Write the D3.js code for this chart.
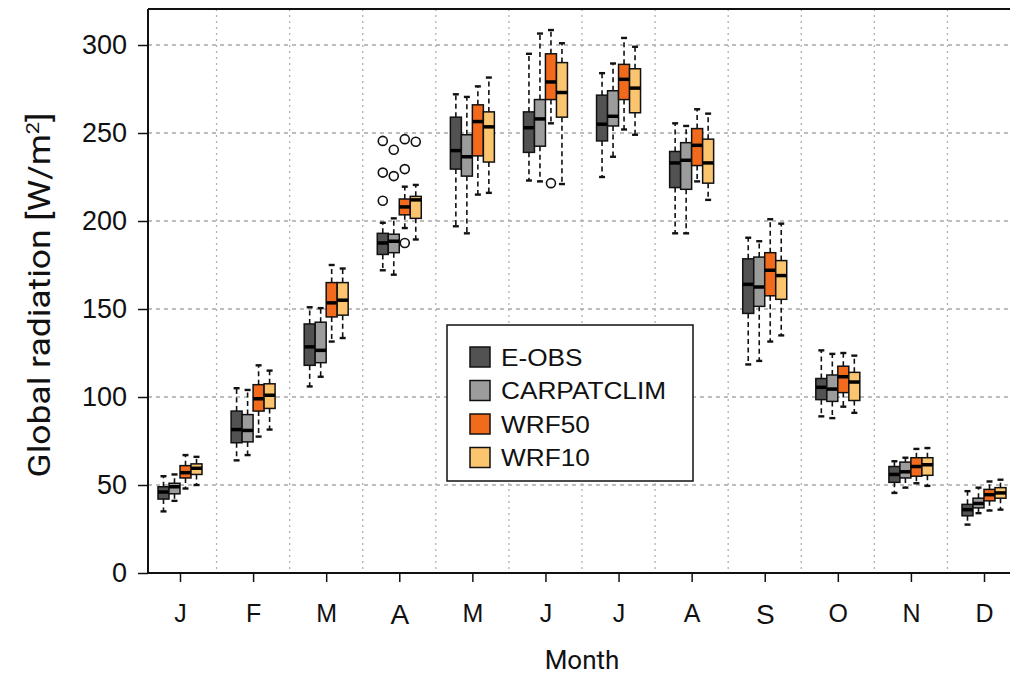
<!DOCTYPE html>
<html><head><meta charset="utf-8">
<script src="https://cdn.jsdelivr.net/npm/d3@7"></script>
<style>
html,body{margin:0;padding:0;background:#fff;}
svg{display:block;}
</style></head>
<body>
<svg id="chart" width="1010" height="677"></svg>
<script>
const months = ["J","F","M","A","M","J","J","A","S","O","N","D"];
const seriesNames = ["E-OBS","CARPATCLIM","WRF50","WRF10"];
const seriesColors = ["#525252","#9c9c9c","#f26b1d","#fbc56f"];
const yTicks = [0,50,100,150,200,250,300];

// [whiskerLow, q1, median, q3, whiskerHigh] per month
const eobs = [
  [35,42,46,49,55],[64,74,81.5,92,105],[106,118,128.5,141.5,151],[172,181,187.5,193,199],
  [197,229.5,240,259,272],[223,239,253,262,295],[225,245.5,255,271.5,284],[193,219,233,239.5,255.5],
  [118.5,147.5,164,178.5,190.5],[89,98.5,105.5,110.5,126.5],[45.5,51.5,56,60.5,63.5],[27.5,32.5,36,39,46.5]
];
const carpatclim = [
  [41,45,49,51,56],[67,74.5,81,90,104],[111.5,119.5,126.5,142.5,150.5],[169.5,182,188.5,192.5,201.5],
  [193,225.5,236.5,249,270.5],[222.5,242.5,258,269,306.5],[236.5,254,259.5,274,289.5],[193,218,234.5,244.5,254],
  [120.5,151.5,162.5,179.5,188.5],[88,97.5,104.5,112.5,124.5],[48.5,54,57.5,63,65.5],[34,37,39.5,42.5,48.5]
];
const wrf50 = [
  [48,54,57,61,67],[77.5,92,99,107,118],[131.5,145.5,153.5,165,175],[196,203.5,208,212.5,219.5],
  [215,237,256.5,266,276.5],[255.5,269,279,295,308.5],[252,269,280.5,289,304],[222.5,231.5,243,252.5,263.5],
  [131.5,157.5,172,182,201],[94.5,102.5,111.5,117.5,125],[51,55,60.5,65.5,70.5],[35.5,41,44.5,47.5,52]
];
const wrf10 = [
  [50,56,59.5,62,66],[81.5,93.5,101,107.5,115],[133.5,146.5,155,165,173],[189.5,201.5,212,214,220.5],
  [216,233.5,253.5,262,281.5],[221,259,273,290,301],[249,261.5,275.5,286.5,299],[212,221.5,233,246.5,261],
  [135,155.5,169,177.5,198.5],[91,98,108.5,114,123.5],[49.5,55.5,61.5,65.5,71],[36,42.5,45.5,48.5,53]
];
// outliers: [monthIndex, seriesIndex, value]
const outliers = [
  [3,0,245.5],[3,0,227.5],[3,0,211.5],
  [3,1,240.5],[3,1,225.5],
  [3,2,246.5],[3,2,229.5],[3,2,187.5],
  [3,3,245],
  [5,2,221.5]
];

const seriesData = [eobs, carpatclim, wrf50, wrf10];

const svg = d3.select("#chart");
const pLeft = 148, pRight = 1012, pTop = 9, pBottom = 573;

const x = d3.scaleLinear().domain([0, 11]).range([180, 984]);
const y = d3.scaleLinear().domain([0, 300]).range([pBottom, 45]);
const boxW = 11;
const offset = d3.scaleLinear().domain([0, 3]).range([-16.5, 16.5]);

// gridlines
const g = svg.append("g");
g.selectAll("line.hg").data(yTicks.filter(d => d > 0)).join("line")
  .attr("x1", pLeft).attr("x2", pRight)
  .attr("y1", d => y(d)).attr("y2", d => y(d))
  .attr("stroke", "#a8a8a8").attr("stroke-width", 1.3).attr("stroke-dasharray", "4,4");
g.selectAll("line.vg").data(d3.range(11).map(i => i + 0.5)).join("line")
  .attr("x1", d => x(d)).attr("x2", d => x(d))
  .attr("y1", pTop).attr("y2", pBottom)
  .attr("stroke", "#b0b0b0").attr("stroke-width", 1.3).attr("stroke-dasharray", "2,4");

// boxes
seriesData.forEach((data, s) => {
  const gs = svg.append("g");
  data.forEach((d, m) => {
    const cx = x(m) + offset(s);
    const [lo, q1, med, q3, hi] = d;
    gs.append("line").attr("x1", cx).attr("x2", cx).attr("y1", y(q3)).attr("y2", y(hi))
      .attr("stroke", "#111").attr("stroke-width", 1.6).attr("stroke-dasharray", "5,3.5");
    gs.append("line").attr("x1", cx).attr("x2", cx).attr("y1", y(q1)).attr("y2", y(lo))
      .attr("stroke", "#111").attr("stroke-width", 1.6).attr("stroke-dasharray", "5,3.5");
    [lo, hi].forEach(v => {
      gs.append("line").attr("x1", cx - 3).attr("x2", cx + 3).attr("y1", y(v)).attr("y2", y(v))
        .attr("stroke", "#111").attr("stroke-width", 2.4);
    });
    gs.append("rect").attr("x", cx - boxW / 2).attr("y", y(q3))
      .attr("width", boxW).attr("height", y(q1) - y(q3))
      .attr("fill", seriesColors[s]).attr("stroke", "#111").attr("stroke-width", 1.5);
    gs.append("line").attr("x1", cx - boxW / 2).attr("x2", cx + boxW / 2)
      .attr("y1", y(med)).attr("y2", y(med))
      .attr("stroke", "#000").attr("stroke-width", 3.5);
  });
});

// outliers
svg.append("g").selectAll("circle").data(outliers).join("circle")
  .attr("cx", d => x(d[0]) + offset(d[1]))
  .attr("cy", d => y(d[2]))
  .attr("r", 4.5).attr("fill", "#fff").attr("stroke", "#111").attr("stroke-width", 1.6);

// frame top
svg.append("line").attr("x1", pLeft).attr("x2", pRight).attr("y1", pTop).attr("y2", pTop)
  .attr("stroke", "#111").attr("stroke-width", 2);

// axes
const yAxis = d3.axisLeft(y).tickValues(yTicks).tickSize(10).tickPadding(11);
const ya = svg.append("g").attr("transform", `translate(${pLeft},0)`).call(yAxis);
ya.select(".domain").attr("d", `M0,${pTop}V${pBottom}`).attr("stroke", "#111").attr("stroke-width", 2);
ya.selectAll(".tick line").attr("stroke", "#111").attr("stroke-width", 1.5);
ya.selectAll(".tick text").attr("font-family", "Liberation Sans, Arial, sans-serif")
  .attr("font-size", 27).attr("fill", "#111");

const xAxis = d3.axisBottom(x).tickValues(d3.range(12)).tickFormat(i => months[i]).tickSize(9).tickPadding(22);
const xa = svg.append("g").attr("transform", `translate(0,${pBottom})`).call(xAxis);
xa.select(".domain").attr("d", `M${pLeft},0H${pRight}`).attr("stroke", "#111").attr("stroke-width", 2);
xa.selectAll(".tick line").attr("stroke", "#111").attr("stroke-width", 1.5);
xa.selectAll(".tick text").attr("font-family", "Liberation Sans, Arial, sans-serif")
  .attr("font-size", 25).attr("fill", "#111")
  .filter(i => i === 3 || i === 8).attr("font-size", 28);

// axis titles
const yt = svg.append("text").attr("transform", `translate(50,295) rotate(-90)`)
  .attr("text-anchor", "middle").attr("font-family", "Roboto, Liberation Sans, sans-serif")
  .attr("font-size", 31).attr("fill", "#111")
  .attr("textLength", 365).attr("lengthAdjust", "spacingAndGlyphs");
yt.append("tspan").text("Global radiation [W/m");
yt.append("tspan").attr("baseline-shift", "super").attr("font-size", 19).text("2");
yt.append("tspan").text("]");

svg.append("text").attr("x", 582).attr("y", 669).attr("text-anchor", "middle")
  .attr("font-family", "Roboto, Liberation Sans, sans-serif")
  .attr("font-size", 26).attr("fill", "#111").text("Month");

// legend
const leg = svg.append("g");
leg.append("rect").attr("x", 447).attr("y", 325).attr("width", 246).attr("height", 156)
  .attr("fill", "#fff").attr("stroke", "#111").attr("stroke-width", 1.5);
seriesNames.forEach((name, i) => {
  const ly = 357 + i * 33.5;
  leg.append("rect").attr("x", 470).attr("y", ly - 10).attr("width", 20).attr("height", 20)
    .attr("fill", seriesColors[i]).attr("stroke", "#111").attr("stroke-width", 1.5);
  leg.append("text").attr("transform", `translate(501,${ly + 8.5}) scale(1.14,1)`)
    .attr("font-family", "Liberation Sans, Arial, sans-serif").attr("font-size", 23)
    .attr("fill", "#111").text(name);
});
</script>
</body></html>
